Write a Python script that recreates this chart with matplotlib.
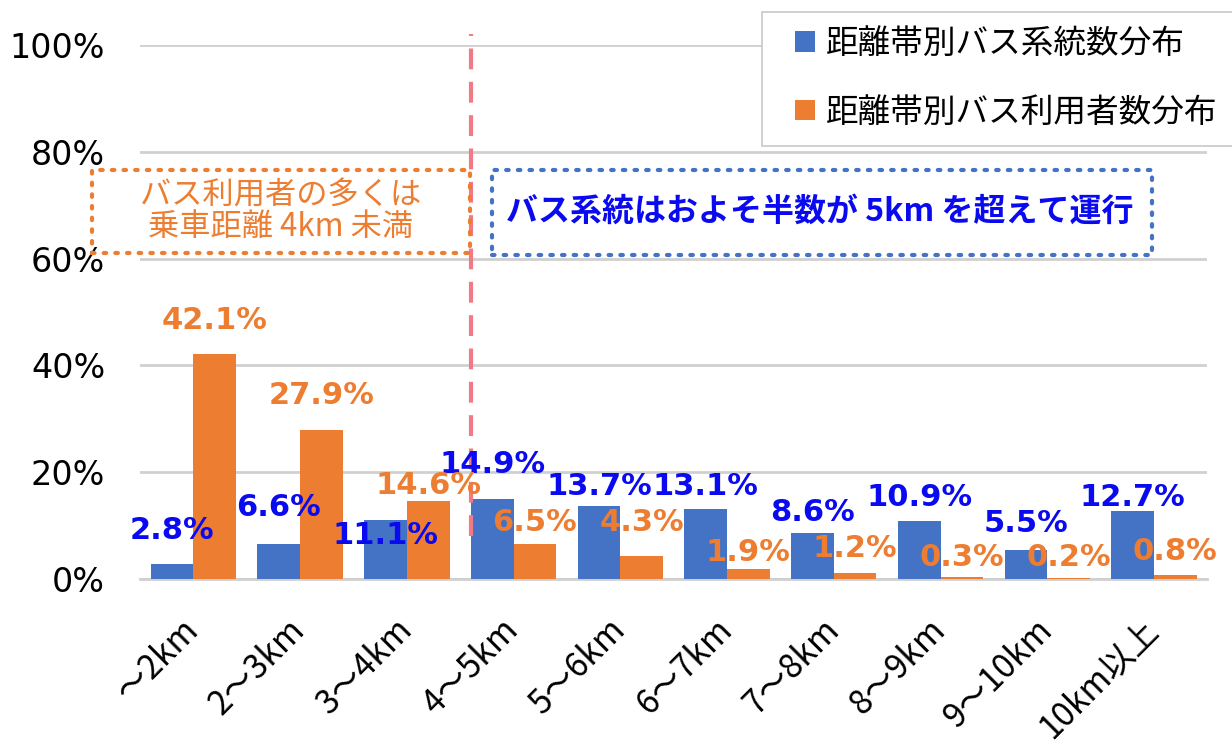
import matplotlib
matplotlib.use("Agg")
import matplotlib.pyplot as plt
import numpy as np
from matplotlib.patches import Rectangle

plt.rcParams['font.family'] = ['Noto Sans CJK JP', 'DejaVu Sans']

# data
categories = ["～2km", "2～3km", "3～4km", "4～5km", "5～6km",
              "6～7km", "7～8km", "8～9km", "9～10km", "10km以上"]
route_share = [2.8, 6.6, 11.1, 14.9, 13.7, 13.1, 8.6, 10.9, 5.5, 12.7]
user_share = [42.1, 27.9, 14.6, 6.5, 4.3, 1.9, 1.2, 0.3, 0.2, 0.8]
series_names = ["距離帯別バス系統数分布", "距離帯別バス利用者数分布"]
yticks = [0, 20, 40, 60, 80, 100]

# vertical label offsets (points), mimicking the Excel label placement
route_lbl_dy = [24, 26, -11.5, 25, 14, 16.5, 14.5, 16.5, 19, 10]
user_lbl_dy = [24.5, 25, 11.5, 16, 24, 12, 17, 14.5, 14.5, 17]

BLUE = "#4472C4"
ORANGE = "#ED7D31"
TXT_BLUE = "#0A0AF0"

W, H = 1232, 744
fig = plt.figure(figsize=(W / 100, H / 100), dpi=100)
ax = fig.add_axes([0.1136, 0.2218, 0.8664, 0.7177])

x = np.arange(len(categories))
w = 0.4
ax.bar(x - w / 2, route_share, w, color=BLUE, label=series_names[0], zorder=3)
ax.bar(x + w / 2, user_share, w, color=ORANGE, label=series_names[1], zorder=3)

for i, v in enumerate(route_share):
    ax.annotate(f"{v}%", (x[i] - w / 2, v), xytext=(0, route_lbl_dy[i]),
                textcoords="offset points", ha="center", va="center",
                fontsize=22, fontweight="bold", color=TXT_BLUE, zorder=5,
                family=['DejaVu Sans'])
for i, v in enumerate(user_share):
    ax.annotate(f"{v}%", (x[i] + w / 2, v), xytext=(0, user_lbl_dy[i]),
                textcoords="offset points", ha="center", va="center",
                fontsize=22, fontweight="bold", color=ORANGE, zorder=5,
                family=['DejaVu Sans'])

ax.set_xlim(-0.5, len(categories) - 0.5)
ax.set_ylim(0, 100)
ax.set_yticks(yticks)
ax.set_yticklabels([f"{t}%" for t in yticks], fontsize=24, family=['DejaVu Sans'])
ax.set_xticks(x)
ax.set_xticklabels(categories, rotation=45, ha="right", va="center",
                   rotation_mode="anchor", fontsize=24)
ax.tick_params(axis="both", length=0)
ax.tick_params(axis="y", pad=25)
ax.tick_params(axis="x", pad=33)
ax.grid(axis="y", color="#D0D0D0", linewidth=2, zorder=0)
for s in ["top", "right", "left"]:
    ax.spines[s].set_visible(False)
ax.spines["bottom"].set_color("#D0D0D0")
ax.spines["bottom"].set_linewidth(2)

# dashed divider at 4km
ax.plot([2.6, 2.6], [8, 102], ls=(0, (5, 3)), color="#F27A86", lw=3,
        clip_on=False, zorder=4)

# annotation boxes
ax.add_patch(Rectangle((-0.95, 61.0), 3.54, 15.6, fill=False, ec=ORANGE, lw=3,
                       ls=(0, (0.6, 2.2)), capstyle="round", clip_on=False, zorder=4))
ax.text(0.82, 68.9, "バス利用者の多くは\n乗車距離 4km 未満", color=ORANGE, fontsize=22.5,
        ha="center", va="center", linespacing=1.0, zorder=5)
ax.add_patch(Rectangle((2.8, 60.6), 6.18, 16.0, fill=False, ec=BLUE, lw=3,
                       ls=(0, (0.6, 2.2)), capstyle="round", clip_on=False, zorder=4))
ax.text(5.87, 68.7, "バス系統はおよそ半数が 5km を超えて運行", color=TXT_BLUE,
        fontsize=23, fontweight="bold", ha="center", va="center", zorder=5)

# legend (frame drawn separately so it can run off the right edge)
ax.add_patch(Rectangle((762 / W, 1 - 146 / H), 490 / W, 134 / H,
                       transform=fig.transFigure, fill=True, fc="white",
                       ec="#C8C8C8", lw=1.2, clip_on=False, zorder=4.5))
leg = ax.legend(loc="upper left", bbox_to_anchor=(795 / W, 1 - 28 / H),
                bbox_transform=fig.transFigure, borderaxespad=0, borderpad=0,
                fontsize=23.5, frameon=False,
                handlelength=0.6, handleheight=0.6, handletextpad=0.35,
                labelspacing=1.12)
leg.set_zorder(6)

fig.savefig("out.png", dpi=100)
